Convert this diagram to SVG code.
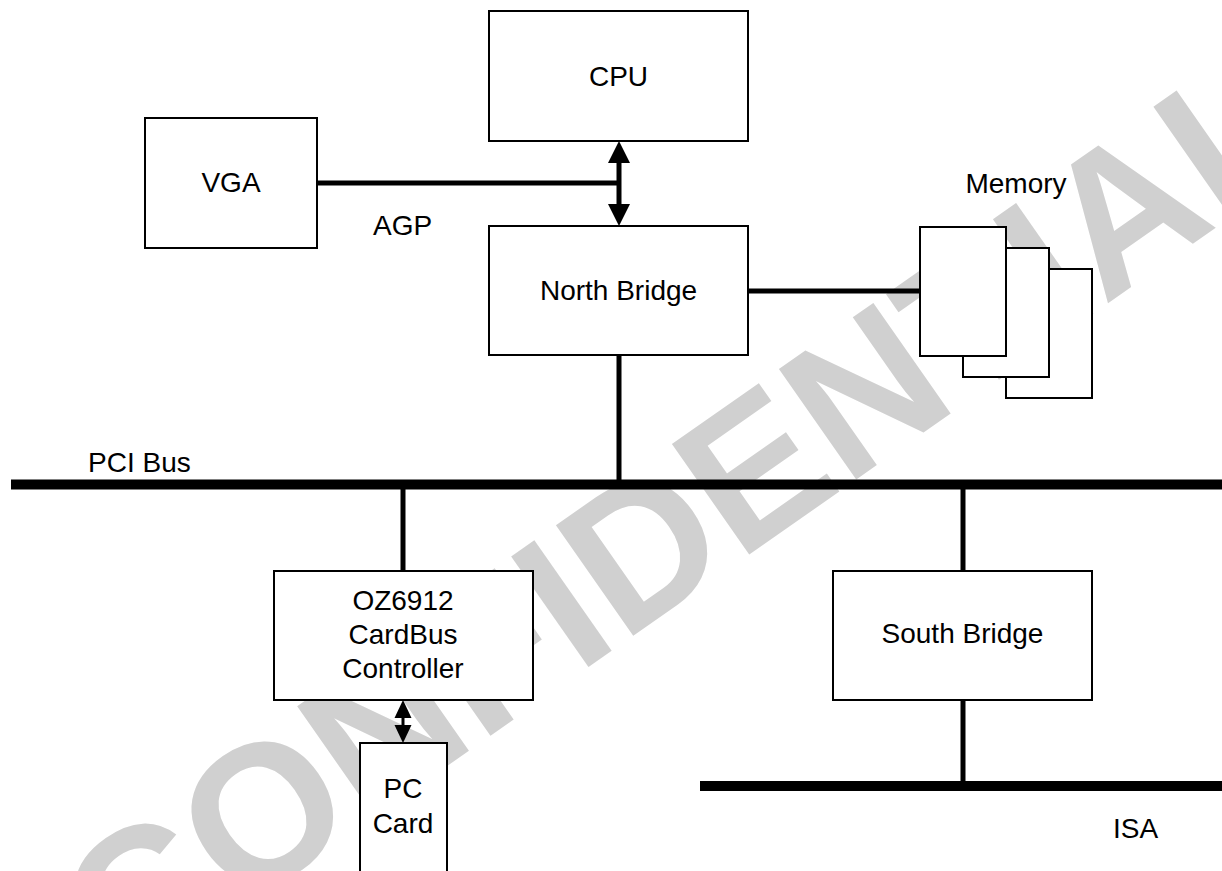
<svg xmlns="http://www.w3.org/2000/svg" width="1222" height="871" viewBox="0 0 1222 871">
<style>
.box{fill:#fff;stroke:#000;stroke-width:2}
.lbl{font-family:"Liberation Sans",Arial,sans-serif;font-size:28px;fill:#000;text-anchor:middle}
.free{font-family:"Liberation Sans",Arial,sans-serif;font-size:28px;fill:#000}
.wire{stroke:#000;stroke-width:5;fill:none}
.bus{stroke:#000;stroke-width:10;fill:none}
.thin{stroke:#000;stroke-width:3;fill:none}
.head{fill:#000;stroke:none}
.wm{font-family:"Liberation Sans",Arial,sans-serif;font-weight:bold;font-size:196px;fill:#d0d0d0}
</style>
<rect width="1222" height="871" fill="#fff"/>
<text class="wm" transform="translate(123,993) rotate(-35)">CONFIDENTIAL</text>
<g id="connectors">
  <line class="bus" x1="11" y1="484.5" x2="1222" y2="484.5"/>
  <line class="bus" x1="700" y1="786" x2="1222" y2="786"/>
  <line class="wire" x1="317" y1="183" x2="619" y2="183"/>
  <line class="wire" x1="619" y1="160" x2="619" y2="207"/>
  <polygon class="head" points="619,141 630,163 608,163"/>
  <polygon class="head" points="619,226 630,204 608,204"/>
  <line class="wire" x1="748" y1="291" x2="920" y2="291"/>
  <line class="wire" x1="619" y1="355" x2="619" y2="484"/>
  <line class="wire" x1="403" y1="484" x2="403" y2="571"/>
  <line class="wire" x1="963" y1="484" x2="963" y2="571"/>
  <line class="wire" x1="963" y1="700" x2="963" y2="786"/>
  <line class="thin" x1="403" y1="715" x2="403" y2="728"/>
  <polygon class="head" points="403,700 411.5,718 394.5,718"/>
  <polygon class="head" points="403,743 411.5,725 394.5,725"/>
</g>
<g id="cpu">
  <rect class="box" x="489" y="11" width="259" height="130"/>
  <text class="lbl" x="618.5" y="86">CPU</text>
</g>
<g id="vga">
  <rect class="box" x="145" y="118" width="172" height="130"/>
  <text class="lbl" x="231" y="192">VGA</text>
</g>
<g id="agp-label">
  <text class="free" x="373" y="235">AGP</text>
</g>
<g id="north-bridge">
  <rect class="box" x="489" y="226" width="259" height="129"/>
  <text class="lbl" x="618.5" y="300">North Bridge</text>
</g>
<g id="memory">
  <text class="lbl" x="1016" y="193">Memory</text>
  <rect class="box" x="1006" y="269" width="86" height="129"/>
  <rect class="box" x="963" y="248" width="86" height="129"/>
  <rect class="box" x="920" y="227" width="86" height="129"/>
</g>
<g id="pci-label">
  <text class="free" x="88" y="472">PCI Bus</text>
</g>
<g id="cardbus-controller">
  <rect class="box" x="274" y="571" width="259" height="129"/>
  <text class="lbl" x="403" y="610">OZ6912</text>
  <text class="lbl" x="403" y="644">CardBus</text>
  <text class="lbl" x="403" y="678">Controller</text>
</g>
<g id="pc-card">
  <rect class="box" x="360" y="743" width="87" height="140"/>
  <text class="lbl" x="403" y="798">PC</text>
  <text class="lbl" x="403" y="833">Card</text>
</g>
<g id="south-bridge">
  <rect class="box" x="833" y="571" width="259" height="129"/>
  <text class="lbl" x="962.5" y="643">South Bridge</text>
</g>
<g id="isa-label">
  <text class="free" x="1113" y="838">ISA</text>
</g>
</svg>
